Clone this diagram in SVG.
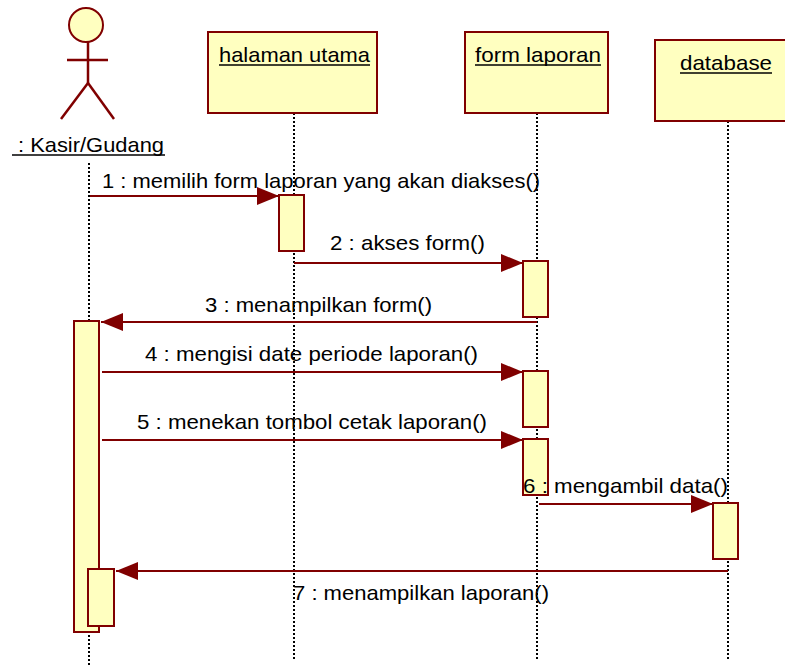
<svg xmlns="http://www.w3.org/2000/svg" width="785" height="666" viewBox="0 0 785 666">
<defs>
<marker id="ah" markerWidth="22" markerHeight="18" refX="22" refY="9" orient="auto" markerUnits="userSpaceOnUse">
<path d="M0,0 L22,9 L0,18 Z" fill="#800000"/>
</marker>
<style>
.box{fill:#FFFFC0;stroke:#800000;stroke-width:2}
.life{stroke:#000;stroke-width:2;stroke-dasharray:2,2;fill:none}
.msg{stroke:#800000;stroke-width:2;fill:none}
.act{fill:#FFFFC0;stroke:#800000;stroke-width:2}
text{font-family:"Liberation Sans",Arial,sans-serif;font-size:21px;fill:#000}
.ul{stroke:#000;stroke-width:1.5}
.fig{stroke:#800000;stroke-width:2.5;fill:none}
</style>
</defs>
<rect width="785" height="666" fill="#fff"/>
<g id="lifelines">
<line class="life" x1="89" y1="163" x2="89" y2="666"/>
<line class="life" x1="294" y1="113" x2="294" y2="660"/>
<line class="life" x1="537" y1="113" x2="537" y2="660"/>
<line class="life" x1="728" y1="121" x2="728" y2="660"/>
</g>
<g id="actor">
<circle cx="86" cy="25" r="17" fill="#FFFFC0" stroke="#800000" stroke-width="2"/>
<line class="fig" x1="88" y1="42" x2="88" y2="83"/>
<line class="fig" x1="67" y1="60" x2="108" y2="60"/>
<line class="fig" x1="88" y1="83" x2="61" y2="119"/>
<line class="fig" x1="88" y1="83" x2="114" y2="119"/>
<text x="18" y="152" textLength="146" lengthAdjust="spacingAndGlyphs">: Kasir/Gudang</text>
<line class="ul" x1="12" y1="155" x2="165" y2="155"/>
</g>
<g id="halaman">
<rect class="box" x="208" y="32" width="169" height="81"/>
<text x="219" y="62" textLength="151" lengthAdjust="spacingAndGlyphs">halaman utama</text>
<line class="ul" x1="219" y1="65" x2="370" y2="65"/>
</g>
<g id="form">
<rect class="box" x="465" y="32" width="143" height="81"/>
<text x="475" y="62" textLength="126" lengthAdjust="spacingAndGlyphs">form laporan</text>
<line class="ul" x1="475" y1="65" x2="601" y2="65"/>
</g>
<g id="database">
<rect class="box" x="655" y="40" width="140" height="81"/>
<text x="680" y="70" textLength="92" lengthAdjust="spacingAndGlyphs">database</text>
<line class="ul" x1="680" y1="73" x2="772" y2="73"/>
</g>
<g id="activations">
<rect class="act" x="279" y="195" width="25" height="56"/>
<rect class="act" x="523" y="261" width="25" height="56"/>
<rect class="act" x="74" y="321" width="25" height="311"/>
<rect class="act" x="523" y="371" width="25" height="56"/>
<rect class="act" x="523" y="439" width="25" height="56"/>
<rect class="act" x="713" y="503" width="25" height="56"/>
<rect class="act" x="88" y="569" width="26" height="57"/>
</g>
<g id="connectors">
<line class="msg" x1="90" y1="196" x2="279" y2="196" marker-end="url(#ah)"/>
<line class="msg" x1="294" y1="263" x2="523" y2="263" marker-end="url(#ah)"/>
<line class="msg" x1="537" y1="322" x2="101" y2="322" marker-end="url(#ah)"/>
<line class="msg" x1="102" y1="372" x2="523" y2="372" marker-end="url(#ah)"/>
<line class="msg" x1="102" y1="440" x2="523" y2="440" marker-end="url(#ah)"/>
<line class="msg" x1="539" y1="504" x2="713" y2="504" marker-end="url(#ah)"/>
<line class="msg" x1="728" y1="571" x2="116" y2="571" marker-end="url(#ah)"/>
</g>
<g id="labels">
<text x="102" y="188" textLength="438" lengthAdjust="spacingAndGlyphs">1 : memilih form laporan yang akan diakses()</text>
<text x="330" y="250" textLength="155" lengthAdjust="spacingAndGlyphs">2 : akses form()</text>
<text x="205" y="312" textLength="227" lengthAdjust="spacingAndGlyphs">3 : menampilkan form()</text>
<text x="145" y="361" textLength="333" lengthAdjust="spacingAndGlyphs">4 : mengisi date periode laporan()</text>
<text x="137" y="429" textLength="350" lengthAdjust="spacingAndGlyphs">5 : menekan tombol cetak laporan()</text>
<text x="523" y="493" textLength="205" lengthAdjust="spacingAndGlyphs">6 : mengambil data()</text>
<text x="293" y="600" textLength="256" lengthAdjust="spacingAndGlyphs">7 : menampilkan laporan()</text>
</g>
</svg>
